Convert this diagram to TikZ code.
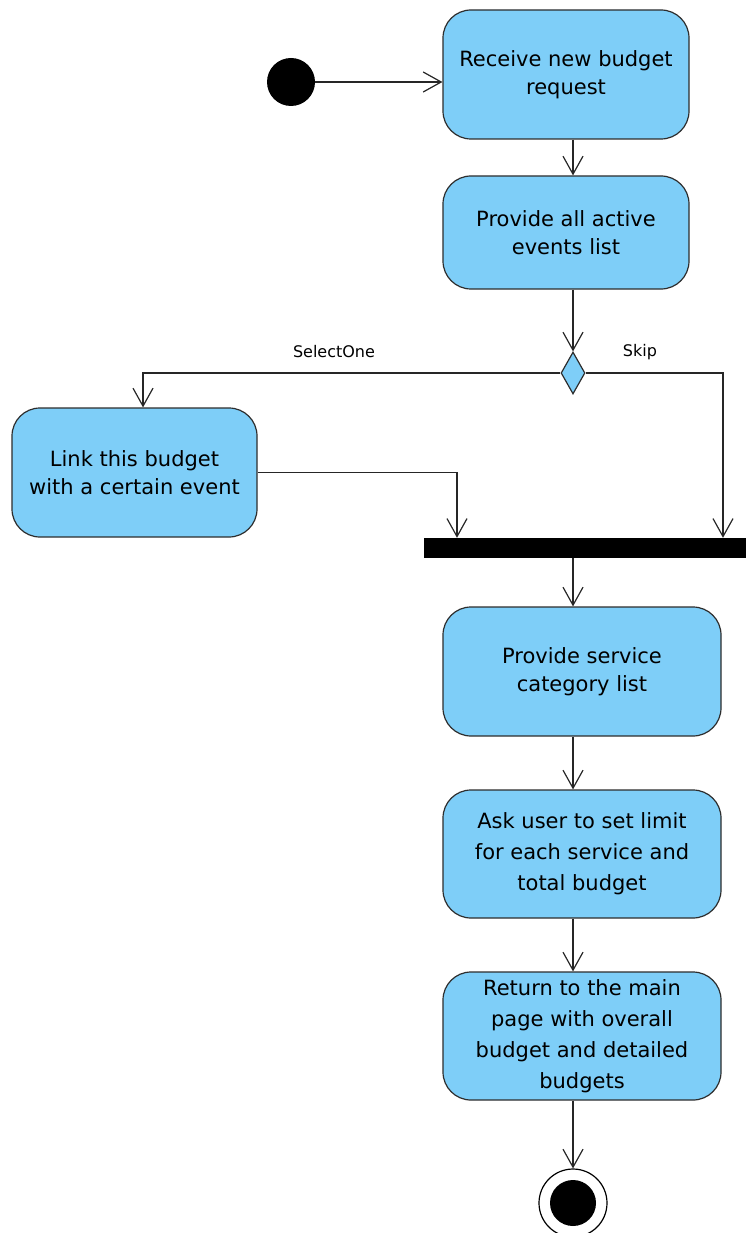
\documentclass[tikz,border=0pt]{standalone}
\usepackage{fontspec}
\setmainfont{DejaVu Sans}
\usetikzlibrary{arrows.meta,shapes.geometric}
\definecolor{actfill}{RGB}{126,206,248}
\definecolor{actline}{RGB}{45,45,45}
\begin{document}
\begin{tikzpicture}[x=1pt,y=-1pt,
  action/.style={draw=actline, fill=actfill, rounded corners=28pt,
    line width=1.2pt, align=center, inner sep=0pt,
    font=\fontsize{21}{28}\selectfont},
  flow/.style={line width=1.2pt, draw=black!85,
    -{Straight Barb[length=18pt,width=20pt,line width=1.2pt]}},
  guard/.style={font=\fontsize{16}{18}\selectfont}]
\useasboundingbox (0,0) rectangle (746,1233);

% start and activity nodes
\node[circle, fill=black, minimum size=48pt, inner sep=0pt] (init) at (291,82) {};
\node[action, minimum width=246pt, minimum height=129pt] (a1) at (566,74.5)
  {Receive new budget\\request};
\node[action, minimum width=246pt, minimum height=113pt] (a2) at (566,232.5)
  {Provide all active\\events list};
\node[diamond, draw=actline, fill=actfill, line width=1.2pt, inner sep=0pt,
  minimum width=24pt, minimum height=42pt] (dec) at (573,373) {};
\node[action, minimum width=245pt, minimum height=129pt] (a3) at (134.5,472.5)
  {Link this budget\\with a certain event};
\node[rectangle, fill=black, inner sep=0pt, minimum width=322pt,
  minimum height=20pt] (bar) at (585,548) {};
\node[action, minimum width=278pt, minimum height=129pt] (a4) at (582,671.5)
  {Provide service\\category list};
\node[action, minimum width=278pt, minimum height=128pt,
  font=\fontsize{21}{31}\selectfont] (a5) at (582,854)
  {Ask user to set limit\\for each service and\\total budget};
\node[action, minimum width=278pt, minimum height=128pt,
  font=\fontsize{21}{31}\selectfont] (a6) at (582,1036)
  {Return to the main\\page with overall\\budget and detailed\\budgets};

% final node
\node[circle, draw=black, line width=1.2pt, fill=white, minimum size=68pt,
  inner sep=0pt] (fin) at (573,1203) {};
\node[circle, fill=black, minimum size=46pt, inner sep=0pt] (finin) at (fin.center) {};

% guard labels
\node[guard] (lsel) at (334,352) {SelectOne};
\node[guard] (lskip) at (640,352) {Skip};

% transitions
\draw[flow] (init.east) -- (init.east -| a1.west);
\draw[flow] (a1.south -| dec.center) -- (a2.north -| dec.center);
\draw[flow] (a2.south -| dec.center) -- (dec.north);
\draw[flow] (dec.west) -| ([xshift=8.5pt]a3.north);
\draw[flow] (dec.east) -| ([xshift=138pt]bar.north);
\draw[flow] (a3.east) -| ([xshift=-128pt]bar.north);
\draw[flow] (bar.south -| dec.center) -- (a4.north -| dec.center);
\draw[flow] (a4.south -| dec.center) -- (a5.north -| dec.center);
\draw[flow] (a5.south -| dec.center) -- (a6.north -| dec.center);
\draw[flow] (a6.south -| dec.center) -- (fin.north);
\end{tikzpicture}
\end{document}
